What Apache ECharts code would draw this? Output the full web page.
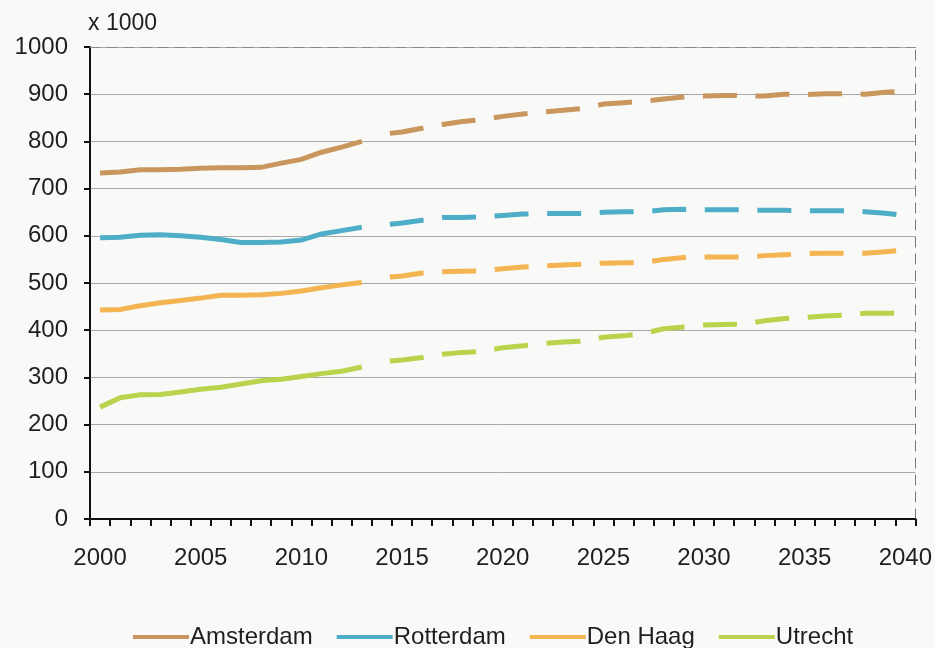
<!DOCTYPE html>
<html>
<head>
<meta charset="utf-8">
<title>Bevolking vier grote steden</title>
<script src="https://cdn.jsdelivr.net/npm/echarts@6/dist/echarts.min.js"></script>
<style>
  html, body { margin: 0; padding: 0; background: #f9f9f7; }
  #chart { width: 935px; height: 648px; }
</style>
</head>
<body>
<div id="chart"></div>
<script>
// Years on the category axis
const years = [];
for (let y = 2000; y <= 2040; y++) years.push(String(y));

// Observed population (x 1000), 2000-2013
const amsterdamHist = [733, 735, 740, 740, 741, 743, 744, 744, 745, 754, 762, 777, 788, 800];
const rotterdamHist = [596, 597, 601, 602, 600, 597, 592, 586, 586, 587, 591, 604, 611, 618];
const denHaagHist   = [443, 444, 452, 458, 463, 468, 474, 474, 475, 478, 483, 490, 496, 501];
const utrechtHist   = [237, 257, 263, 264, 269, 275, 279, 286, 293, 296, 302, 308, 313, 322];

// Projected population (x 1000), 2014-2040
const amsterdamProj = [815, 820, 828, 836, 842, 846, 853, 858, 862, 866, 870, 879, 882, 885,
                       890, 894, 896, 897, 897, 896, 900, 899, 901, 901, 900, 904, 907];
const rotterdamProj = [623, 627, 633, 639, 639, 640, 643, 646, 647, 647, 647, 650, 651, 651,
                       655, 656, 655, 655, 655, 654, 654, 653, 653, 653, 651, 648, 643];
const denHaagProj   = [511, 515, 521, 524, 525, 526, 530, 534, 536, 538, 540, 542, 543, 543,
                       550, 554, 555, 555, 555, 558, 560, 562, 563, 563, 563, 566, 570];
const utrechtProj   = [333, 337, 342, 349, 353, 355, 363, 367, 372, 375, 377, 385, 388, 393,
                       403, 407, 411, 412, 413, 420, 425, 427, 430, 432, 436, 436, 436];

const cityNames  = ['Amsterdam', 'Rotterdam', 'Den Haag', 'Utrecht'];
const cityColors = ['#c9965e', '#4eaec8', '#f4b452', '#b9d44c'];
const histSets = [amsterdamHist, rotterdamHist, denHaagHist, utrechtHist];
const projSets = [amsterdamProj, rotterdamProj, denHaagProj, utrechtProj];

const yTicks = { min: 0, max: 1000, step: 100 };
const fontFamily = "'Liberation Sans', Arial, sans-serif";
const textColor = '#1f1f1f';

const series = [];
cityNames.forEach((name, i) => {
  // solid: observed years
  series.push({
    name: name,
    type: 'line',
    data: histSets[i].slice(),
    symbol: 'none',
    z: 3,
    lineStyle: { color: cityColors[i], width: 5, cap: 'butt', join: 'miter' },
    itemStyle: { color: cityColors[i] }
  });
  // dashed: projection years
  const proj = new Array(histSets[i].length).fill(null).concat(projSets[i]);
  series.push({
    name: name,
    type: 'line',
    data: proj,
    symbol: 'none',
    z: 3,
    lineStyle: {
      color: cityColors[i], width: 5, cap: 'butt',
      type: [34, 18.6], dashOffset: 44.6
    },
    itemStyle: { color: cityColors[i] }
  });
});

const chart = echarts.init(document.getElementById('chart'), null, { renderer: 'canvas' });
chart.setOption({
  backgroundColor: '#f9f9f7',
  animation: false,
  textStyle: { fontFamily: fontFamily, color: textColor },
  grid: { left: 90, right: 17, top: 47, bottom: 129, containLabel: false },
  legend: {
    data: cityNames,
    left: 128,
    top: 620,
    icon: 'rect',
    itemWidth: 56,
    itemHeight: 4,
    itemGap: 24,
    textStyle: { fontFamily: fontFamily, fontSize: 24, color: textColor, padding: [0, 0, 0, -4] }
  },
  xAxis: [
    {
      type: 'category',
      data: years,
      boundaryGap: true,
      axisLine: { show: true, lineStyle: { color: '#111', width: 2 } },
      axisTick: { show: true, interval: 0, length: 7, lineStyle: { color: '#111', width: 2 } },
      axisLabel: {
        interval: 4, margin: 27, fontSize: 24, color: textColor, fontFamily: fontFamily
      },
      splitLine: { show: false }
    },
    {
      type: 'category',
      data: years,
      position: 'top',
      boundaryGap: true,
      axisLine: { show: true, onZero: false, lineStyle: { color: '#888', width: 1, type: [10, 7] } },
      axisTick: { show: false },
      axisLabel: { show: false },
      splitLine: { show: false }
    }
  ],
  yAxis: [
    {
      type: 'value',
      min: yTicks.min,
      max: yTicks.max,
      interval: yTicks.step,
      name: 'x 1000',
      nameLocation: 'end',
      nameGap: 12,
      nameTextStyle: { align: 'left', fontSize: 23, color: textColor, fontFamily: fontFamily, padding: [0, 0, 0, -2] },
      axisLine: { show: true, lineStyle: { color: '#111', width: 2 } },
      axisTick: { show: true, length: 6, lineStyle: { color: '#111', width: 2 } },
      axisLabel: {
        margin: 22, fontSize: 24, color: textColor, fontFamily: fontFamily,
        formatter: (v) => String(v)
      },
      splitLine: { show: true, lineStyle: { color: '#a9a9a9', width: 1 } }
    },
    {
      type: 'value',
      min: yTicks.min,
      max: yTicks.max,
      interval: yTicks.step,
      position: 'right',
      axisLine: { show: true, onZero: false, lineStyle: { color: '#777', width: 1, type: [10, 7] } },
      axisTick: { show: false },
      axisLabel: { show: false },
      splitLine: { show: false }
    }
  ],
  series: series
});
</script>
</body>
</html>
